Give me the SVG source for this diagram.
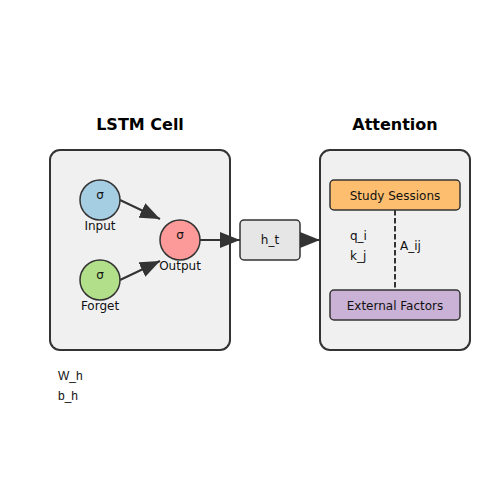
<svg xmlns="http://www.w3.org/2000/svg" width="500" height="500" viewBox="0 0 500 500">
<style>
.panel{fill:#f0f0f0;stroke:#333;stroke-width:2}
.node{stroke:#333;stroke-width:1.5}
.title{font-family:"DejaVu Sans",sans-serif;font-size:16px;font-weight:bold;fill:#000;text-anchor:middle}
.lbl{font-family:"DejaVu Sans",sans-serif;font-size:12px;fill:#111;text-anchor:middle}
.left{text-anchor:start}
.sig{font-family:"DejaVu Sans",sans-serif;font-size:12px;fill:#111;text-anchor:middle}
.small{font-family:"Liberation Sans",Arial,sans-serif;font-size:12px;fill:#111}
.conn{stroke:#333;stroke-width:2;fill:none}
</style>
<defs>
<marker id="ah" markerUnits="userSpaceOnUse" markerWidth="20" markerHeight="16" refX="20" refY="8" orient="auto">
<path d="M0,0 L20,8 L0,16 Z" fill="#333"/>
</marker>
</defs>
<rect x="0" y="0" width="500" height="500" fill="#fff"/>
<g id="lstm">
<text class="title" x="140" y="130">LSTM Cell</text>
<rect class="panel" x="50" y="150" width="180" height="200" rx="10"/>
</g>
<g id="attention">
<text class="title" x="395" y="130">Attention</text>
<rect class="panel" x="320" y="150" width="150" height="200" rx="10"/>
</g>
<g id="input">
<circle class="node" cx="100" cy="200" r="20" fill="#a6cee3"/>
<text class="sig" x="100" y="199">σ</text>
<text class="lbl" x="100" y="230">Input</text>
</g>
<g id="forget">
<circle class="node" cx="100" cy="280" r="20" fill="#b2df8a"/>
<text class="sig" x="100" y="279">σ</text>
<text class="lbl" x="100" y="310">Forget</text>
</g>
<g id="output">
<circle class="node" cx="180" cy="240" r="20" fill="#fb9a99"/>
<text class="sig" x="180" y="239">σ</text>
<text class="lbl" x="180" y="270">Output</text>
</g>
<g id="ht">
<rect class="node" x="240" y="220" width="60" height="40" rx="4" fill="#e6e6e6"/>
<text class="lbl" x="270" y="244">h_t</text>
</g>
<g id="study">
<rect class="node" x="330" y="180" width="130" height="30" rx="4" fill="#fdbf6f"/>
<text class="lbl" x="395" y="199.5">Study Sessions</text>
</g>
<g id="external">
<rect class="node" x="330" y="290" width="130" height="30" rx="4" fill="#cab2d6"/>
<text class="lbl" x="395" y="309.5">External Factors</text>
</g>
<g id="connectors">
<line class="conn" x1="120" y1="200" x2="160" y2="219" marker-end="url(#ah)"/>
<line class="conn" x1="120" y1="280" x2="160" y2="261" marker-end="url(#ah)"/>
<line class="conn" x1="200" y1="240" x2="240" y2="240" marker-end="url(#ah)"/>
<line class="conn" x1="300" y1="240" x2="320" y2="240" marker-end="url(#ah)"/>
<line x1="395" y1="210" x2="395" y2="290" stroke="#333" stroke-width="2" stroke-dasharray="5.5,2.5"/>
</g>
<g id="labels">
<text class="lbl left" x="350" y="240">q_i</text>
<text class="lbl left" x="350" y="260">k_j</text>
<text class="lbl left" x="400" y="250">A_ij</text>
<text class="small" x="58" y="380">W_h</text>
<text class="small" x="58" y="400">b_h</text>
</g>
</svg>
